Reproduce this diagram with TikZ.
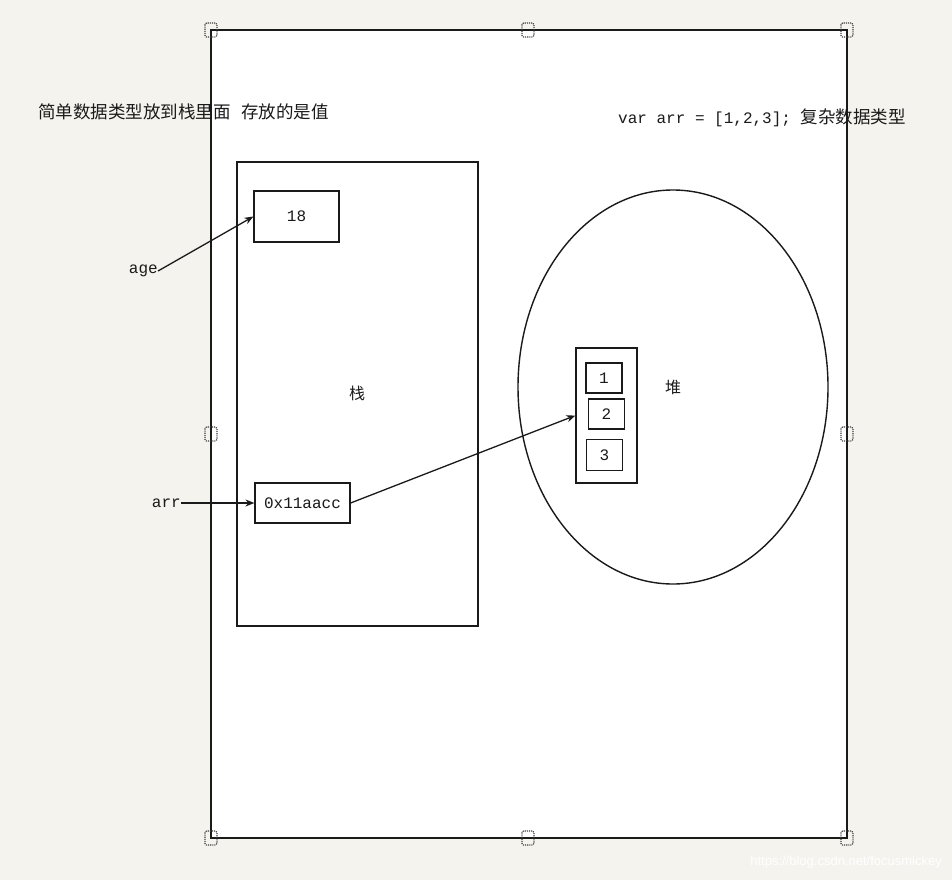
\documentclass[tikz,border=0pt]{standalone}
\usepackage{fontspec}
\setmainfont{Liberation Mono}
\newfontfamily\cjk{Noto Sans CJK SC}
\newfontfamily\websans{Liberation Sans}
\usepackage{tikz}
\usetikzlibrary{arrows,arrows.meta,calc,positioning,shapes.geometric}
\definecolor{paper}{HTML}{F4F3EE}
\definecolor{ink}{HTML}{1A1A1A}
\tikzset{
	cell/.style={draw=ink,line width=1.2pt,inner sep=0pt,text=ink,font=\fontsize{16}{16}\selectfont},
	label/.style={inner sep=0pt,text=ink,font=\fontsize{16}{16}\selectfont},
	hanzi/.style={inner sep=0pt,text=ink,font=\cjk\fontsize{17.5}{17.5}\selectfont},
	handle/.style={draw=ink!85,densely dotted,line width=1.1pt,rounded corners=1.5pt,fill=none},
	ptr/.style={-{Stealth[length=9pt,width=7pt]},line width=1.3pt,draw=ink},
}

\begin{document}
\begin{tikzpicture}[x=1pt,y=-1pt]
				\fill[paper] (0,0) rectangle (952,880);
				\draw[ink,line width=1.8pt,fill=white] (211,30) to (847,30) to (847,838) to (211,838) -- cycle;
				% handles
				\foreach \hx/\hy in {211/30,528/30,847/30,211/434,847/434,211/838,528/838,847/838}
					\draw[handle] (\hx-6,\hy-7) rectangle (\hx+6,\hy+7);
				% texts
				\node[hanzi,anchor=west] (simple) at (38,112) {简单数据类型放到栈里面\hspace{0.6em}存放的是值};
				\node[label,anchor=west] (decl) at (618,118) {var arr = [1,2,3]; {\cjk\fontsize{17.5}{17.5}\selectfont 复杂数据类型}};
				% stack
				\node[draw=ink,line width=1.4pt,minimum width=241pt,minimum height=464pt,inner sep=0pt] (stack) at (357.5,394) {};
				\node[hanzi,font=\cjk\fontsize{16}{16}\selectfont] (zhan) at (357,393) {栈};
				\node[cell,minimum width=85pt,minimum height=51pt] (age box) at (296.5,216.5) {18};
				\node[cell,minimum width=95pt,minimum height=40pt] (addr) at (302.5,503) {0x11aacc};
				\node[label,anchor=east] (age) at (158,271) {age};
				\node[label,anchor=east] (arr) at (181,503) {arr};
				% heap
				\node[ellipse,draw=ink,line width=1.4pt,minimum width=310pt,minimum height=394pt,inner sep=0pt] (heap) at (673,387) {};
				\node[hanzi,font=\cjk\fontsize{16}{16}\selectfont] (dui) at (673,387) {堆};
				\node[cell,minimum width=61pt,minimum height=135pt] (array) at (606.5,415.5) {};
				\node[cell,minimum width=36pt,minimum height=30pt] (e1) at (604,378) {1};
				\node[cell,minimum width=36pt,minimum height=30pt] (e2) at (606.5,414) {2};
				\node[cell,minimum width=36pt,minimum height=31pt] (e3) at (604.5,455) {3};
				% pointers
				\draw[ptr] (age.east) to (age box.west);
				\draw[ptr] (arr.east) to (addr.west);
				\draw[ptr] (addr.east) to (array.west);
				\node[inner sep=0pt,text=white,font=\websans\fontsize{13}{13}\selectfont,anchor=east] (mark) at (942,862) {https://blog.csdn.net/focusmickey};
	\end{tikzpicture}
\end{document}
